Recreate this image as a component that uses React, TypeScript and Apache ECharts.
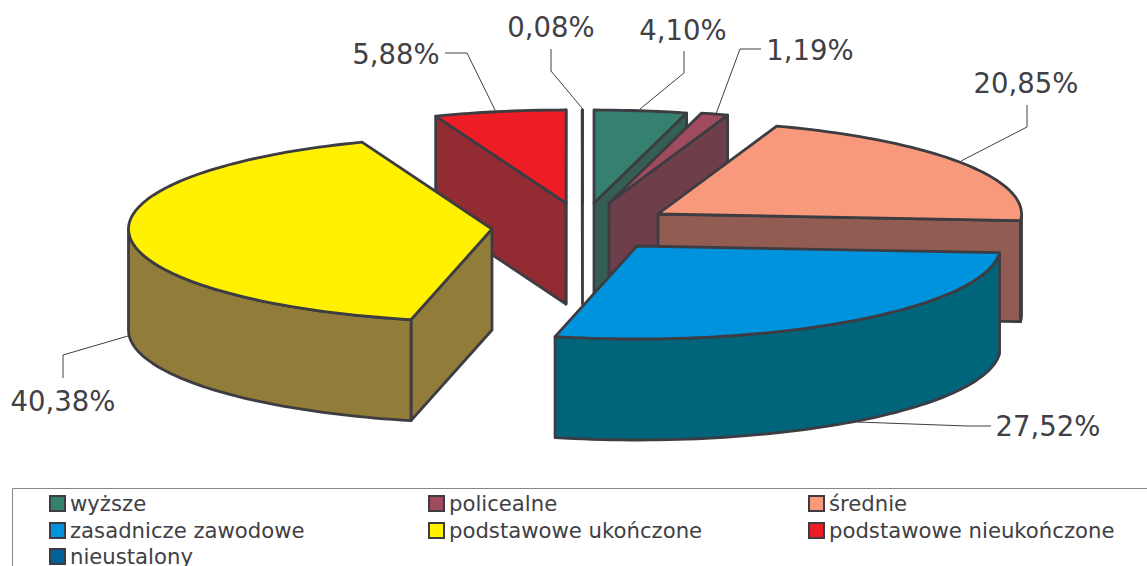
import React, { useEffect, useRef } from "react";
import * as echarts from "echarts";

const categories = ["wyższe", "policealne", "średnie", "zasadnicze zawodowe", "podstawowe ukończone", "podstawowe nieukończone", "nieustalony"];
const shares = [4.10, 1.19, 20.85, 27.52, 40.38, 5.88, 0.08];

const topColors = ["#35806F", "#A04C5E", "#F7997A", "#0093DD", "#FFF100", "#EE1C25", "#00609A"];
const wallColors = ["#365F53", "#6E3F4A", "#925C52", "#00647A", "#917C3A", "#932C32", "#00405A"];
const drawOrder = [3, 4, 5, 6, 7, 2, 2];

// exploded centre of each slice on screen
const centres = [[594, 203], [609, 203], [658, 214], [637, 246], [492, 229], [566, 203], [582.5, 203]];
// small projection correction of each slice's start and end angle, in degrees
const angleNudges = [[0, 0], [0, 0], [0, 0], [0, -0.15], [-0.3, 0.5], [0.45, 0.3], [0.25, 0]];
const RX = 363.5, RY = 93, DEPTH = 101;

// label layout
const labelPos = [[683, 30], [810, 50], [1026, 83], [1048, 426], [63, 401], [396, 54], [551, 27]];
const leaders = [
  [[684, 51], [684, 73], [640, 109]],
  [[761, 49], [740, 49], [716, 114]],
  [[1027, 105], [1027, 127], [961, 161]],
  [[991, 426], [967, 426], [857, 422]],
  [[63, 378], [63, 355], [128, 336]],
  [[445, 53], [467, 53], [495, 110]],
  [[551, 49], [551, 71], [582, 108]],
];
const legendPos = [[49, 493], [428, 493], [808, 493], [49, 520], [428, 520], [808, 520], [49, 546]];

const STROKE = "#3c3c42";
const TEXT = "#404045";
const FONT = "'DejaVu Sans'";

const rad = (d: number) => (d * Math.PI) / 180;

function arc(cx: number, cy: number, a0: number, a1: number, dy = 0) {
  const pts: number[][] = [];
  const n = Math.max(2, Math.ceil((a1 - a0) / 1.5));
  for (let i = 0; i <= n; i++) {
    const a = rad(a0 + ((a1 - a0) * i) / n);
    pts.push([cx + RX * Math.sin(a), cy - RY * Math.cos(a) + dy]);
  }
  return pts;
}

function renderSlice(i: number, value: number) {
  const before = shares.slice(0, i).reduce((s, v) => s + v, 0);
  const a0 = (before / 100) * 360 + angleNudges[i][0];
  const a1 = ((before + value) / 100) * 360 + angleNudges[i][1];
  const [cx, cy] = centres[i];
  const children: any[] = [];
  const face = (points: number[][], fill: string) =>
    children.push({
      type: "polygon",
      shape: { points },
      style: { fill, stroke: STROKE, lineWidth: 2.8, lineJoin: "round" },
    });

  const edge = (a: number) => {
    const [p] = arc(cx, cy, a, a);
    face([[cx, cy], p, [p[0], p[1] + DEPTH], [cx, cy + DEPTH]], wallColors[i]);
  };
  if (Math.sin(rad(a0)) < 0) edge(a0);
  if (Math.sin(rad(a1)) > 0) edge(a1);

  const o0 = Math.max(a0, 90);
  const o1 = Math.min(a1, 270);
  if (o1 > o0) {
    face([...arc(cx, cy, o0, o1), ...arc(cx, cy, o0, o1, DEPTH).reverse()], wallColors[i]);
  }
  face([[cx, cy], ...arc(cx, cy, a0, a1)], topColors[i]);

  children.push({
    type: "polyline",
    shape: { points: leaders[i] },
    style: { fill: "none", stroke: "#404040", lineWidth: 1 },
  });
  children.push({
    type: "text",
    style: {
      text: value.toFixed(2).replace(".", ",") + "%",
      x: labelPos[i][0],
      y: labelPos[i][1],
      align: "center",
      verticalAlign: "middle",
      fontFamily: FONT,
      fontSize: 27.5,
      fill: TEXT,
    },
  });
  return { type: "group", children };
}

export default function App() {
  const ref = useRef<HTMLDivElement>(null);
  useEffect(() => {
    const chart = echarts.init(ref.current!, null, { renderer: "svg" });
    chart.setOption({
      animation: false,
      backgroundColor: "#ffffff",
      legend: categories.map((name, i) => ({
        data: [name],
        left: legendPos[i][0],
        top: legendPos[i][1],
        padding: 0,
        itemWidth: 15,
        itemHeight: 15,
        selectedMode: false,
        icon: "rect",
        itemStyle: { color: topColors[i], borderColor: STROKE, borderWidth: 2 },
        textStyle: { fontFamily: FONT, fontSize: 21.2, color: TEXT, padding: [0, 0, 0, 0] },
      })),
      graphic: [
        {
          type: "rect",
          shape: { x: 12.5, y: 488.5, width: 1160, height: 100 },
          style: { fill: "none", stroke: "#888888", lineWidth: 1 },
          z: 0,
        },
      ],
      series: categories.map((name, i) => ({
        type: "custom",
        name,
        coordinateSystem: "none",
        z: drawOrder[i],
        silent: true,
        clip: false,
        itemStyle: { color: topColors[i] },
        data: [shares[i]],
        renderItem: (_p: any, api: any) => renderSlice(i, api.value(0)),
      })),
    });
    return () => chart.dispose();
  }, []);
  return <div ref={ref} style={{ position: "fixed", left: 0, top: 0, width: 1147, height: 566 }} />;
}
